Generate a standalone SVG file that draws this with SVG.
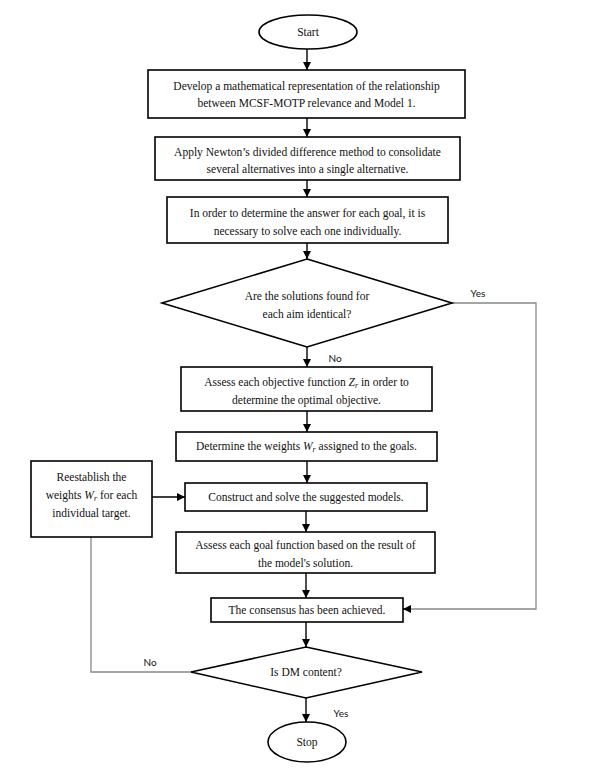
<svg xmlns="http://www.w3.org/2000/svg" width="592" height="777" viewBox="0 0 592 777">
<defs>
<style>
.box{fill:#fff;stroke:#000;stroke-width:1.6}
.t{font-family:"Liberation Serif","Times New Roman",serif;font-size:11.5px;fill:#111;text-anchor:middle}
.m{font-style:italic}
.lbl{font-family:Lato,"Liberation Sans",sans-serif;font-size:10px;fill:#111;text-anchor:middle}
.c{fill:none;stroke:#000;stroke-width:1.4}
.g{fill:none;stroke:#888;stroke-width:1.3}
</style>
<marker id="ah" markerUnits="userSpaceOnUse" markerWidth="8" markerHeight="8" viewBox="0 0 8 8" refX="8" refY="4" orient="auto">
<path d="M0,0 L8,4 L0,8 Z" fill="#000"/>
</marker>
</defs>
<rect width="592" height="777" fill="#fff"/>

<g id="connectors">
<line class="c" x1="307" y1="49" x2="307" y2="70" marker-end="url(#ah)"/>
<line class="c" x1="307" y1="118" x2="307" y2="137" marker-end="url(#ah)"/>
<line class="c" x1="307" y1="180" x2="307" y2="197" marker-end="url(#ah)"/>
<line class="c" x1="307" y1="243" x2="307" y2="259" marker-end="url(#ah)"/>
<line class="c" x1="307" y1="347" x2="307" y2="367" marker-end="url(#ah)"/>
<line class="c" x1="307" y1="411" x2="307" y2="432" marker-end="url(#ah)"/>
<line class="c" x1="307" y1="461" x2="307" y2="483" marker-end="url(#ah)"/>
<line class="c" x1="306" y1="511" x2="306" y2="532" marker-end="url(#ah)"/>
<line class="c" x1="306" y1="573" x2="306" y2="598" marker-end="url(#ah)"/>
<line class="c" x1="306" y1="622" x2="306" y2="647" marker-end="url(#ah)"/>
<line class="c" x1="306" y1="698" x2="306" y2="722" marker-end="url(#ah)"/>
<line class="c" x1="152" y1="497" x2="185" y2="497" marker-end="url(#ah)"/>
<polyline class="g" points="452,303 536,303 536,609 404,609"/>
<line class="c" x1="410" y1="609" x2="403" y2="609" marker-end="url(#ah)"/>
<polyline class="g" points="191,672 91,672 91,537"/>
<text class="lbl" x="478" y="297">Yes</text>
<text class="lbl" x="335" y="362">No</text>
<text class="lbl" x="150" y="666">No</text>
<text class="lbl" x="341" y="717">Yes</text>
</g>

<g id="start">
<ellipse class="box" cx="308" cy="32" rx="49" ry="17"/>
<text class="t" x="308" y="36">Start</text>
</g>

<g id="n1">
<rect class="box" x="148" y="70" width="317" height="48"/>
<text class="t" x="306.5" y="90">Develop a mathematical representation of the relationship</text>
<text class="t" x="306.5" y="107">between MCSF-MOTP relevance and Model 1.</text>
</g>

<g id="n2">
<rect class="box" x="155" y="137" width="305" height="43"/>
<text class="t" x="307.5" y="156">Apply Newton’s divided difference method to consolidate</text>
<text class="t" x="307.5" y="173">several alternatives into a single alternative.</text>
</g>

<g id="n3">
<rect class="box" x="167" y="197" width="281" height="46"/>
<text class="t" x="307.5" y="217">In order to determine the answer for each goal, it is</text>
<text class="t" x="307.5" y="235">necessary to solve each one individually.</text>
</g>

<g id="d1">
<polygon class="box" points="307,259 452,303 307,347 162,303"/>
<text class="t" x="307" y="300">Are the solutions found for</text>
<text class="t" x="307" y="318">each aim identical?</text>
</g>

<g id="n4">
<rect class="box" x="181" y="367" width="251" height="44"/>
<text class="t" x="306.5" y="386">Assess each objective function <tspan class="m">Z</tspan><tspan class="m" font-size="8" dy="2">r</tspan><tspan dy="-2"> in order to</tspan></text>
<text class="t" x="306.5" y="404">determine the optimal objective.</text>
</g>

<g id="n5">
<rect class="box" x="176" y="432" width="261" height="29"/>
<text class="t" x="306.5" y="450">Determine the weights <tspan class="m">W</tspan><tspan class="m" font-size="8" dy="2">r</tspan><tspan dy="-2"> assigned to the goals.</tspan></text>
</g>

<g id="n6">
<rect class="box" x="185" y="483" width="242" height="28"/>
<text class="t" x="306" y="501">Construct and solve the suggested models.</text>
</g>

<g id="n7">
<rect class="box" x="176" y="532" width="259" height="41"/>
<text class="t" x="305.5" y="549">Assess each goal function based on the result of</text>
<text class="t" x="305.5" y="567">the model's solution.</text>
</g>

<g id="n8">
<rect class="box" x="211" y="598" width="192" height="24"/>
<text class="t" x="307" y="614">The consensus has been achieved.</text>
</g>

<g id="d2">
<polygon class="box" points="306,647 422,672 306,698 191,672"/>
<text class="t" x="306" y="676">Is DM content?</text>
</g>

<g id="stop">
<ellipse class="box" cx="307" cy="742" rx="39" ry="20"/>
<text class="t" x="307" y="746">Stop</text>
</g>

<g id="n9">
<rect class="box" x="31" y="461" width="121" height="76"/>
<text class="t" x="91.5" y="481">Reestablish the</text>
<text class="t" x="91.5" y="499">weights <tspan class="m">W</tspan><tspan class="m" font-size="8" dy="2">r</tspan><tspan dy="-2"> for each</tspan></text>
<text class="t" x="91.5" y="517">individual target.</text>
</g>
</svg>
